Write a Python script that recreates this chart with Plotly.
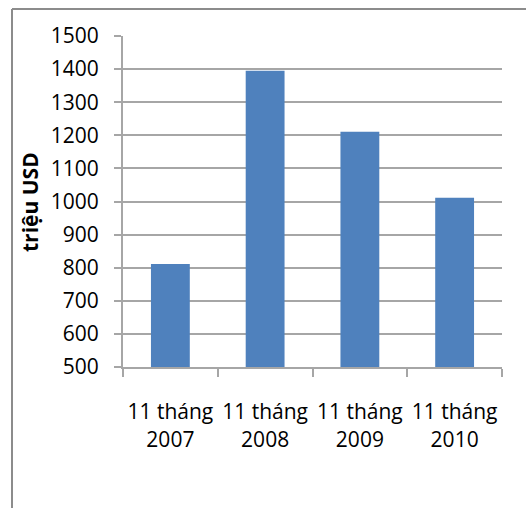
import plotly.graph_objects as go

categories = ["11 tháng<br>2007", "11 tháng<br>2008", "11 tháng<br>2009", "11 tháng<br>2010"]
values = [811, 1395, 1211, 1011]
y_title = "triệu USD"

W, H = 526, 508
L, R, T, B = 123, 24, 36, 141
pw, ph = W - L - R, H - T - B

def px_x(x):
    return (x - L) / pw

def px_y(y):
    return 1 - (y - T) / ph

grid = "#a6a6a6"
font = "Open Sans, Calibri, sans-serif"

fig = go.Figure(go.Bar(x=categories, y=values, marker_color="#4F81BD",
                       marker_line_width=0))

fig.update_layout(
    width=W, height=H,
    margin=dict(l=L, r=R, t=T, b=B, autoexpand=False),
    paper_bgcolor="white", plot_bgcolor="white",
    bargap=0.59,
    showlegend=False,
    font=dict(family=font, size=21, color="#000000"),
)
fig.update_xaxes(
    showline=True, linecolor=grid, linewidth=2,
    ticks="outside", tickson="boundaries", ticklen=8, tickwidth=2, tickcolor=grid,
    showgrid=False, ticklabelstandoff=25, tickangle=0, automargin=False,
    tickfont=dict(family=font, size=21, color="#000"),
)
fig.update_yaxes(
    range=[500, 1500], dtick=100, tick0=500,
    showline=True, linecolor=grid, linewidth=2,
    showgrid=True, gridcolor=grid, gridwidth=2,
    ticks="outside", ticklen=7, tickwidth=2, tickcolor=grid,
    ticklabelstandoff=11, automargin=False,
    tickfont=dict(family=font, size=21, color="#000"),
    zeroline=False,
)

fig.add_annotation(
    x=px_x(30), y=px_y(202), xref="paper", yref="paper",
    text="<b>" + y_title + "</b>", textangle=-90, showarrow=False,
    font=dict(family=font, size=21, color="#000"),
    xanchor="center", yanchor="middle",
)

# chart area border (left and top edges visible)
fig.add_shape(type="line", xref="paper", yref="paper",
              x0=px_x(12), x1=px_x(12), y0=px_y(9), y1=px_y(520),
              line=dict(color="#8c8c8c", width=2))
fig.add_shape(type="line", xref="paper", yref="paper",
              x0=px_x(12), x1=px_x(540), y0=px_y(9), y1=px_y(9),
              line=dict(color="#8c8c8c", width=2))

fig.write_html("out.html", config={"displayModeBar": False},
               post_script="document.body.style.margin='0';document.body.style.overflow='hidden';")
